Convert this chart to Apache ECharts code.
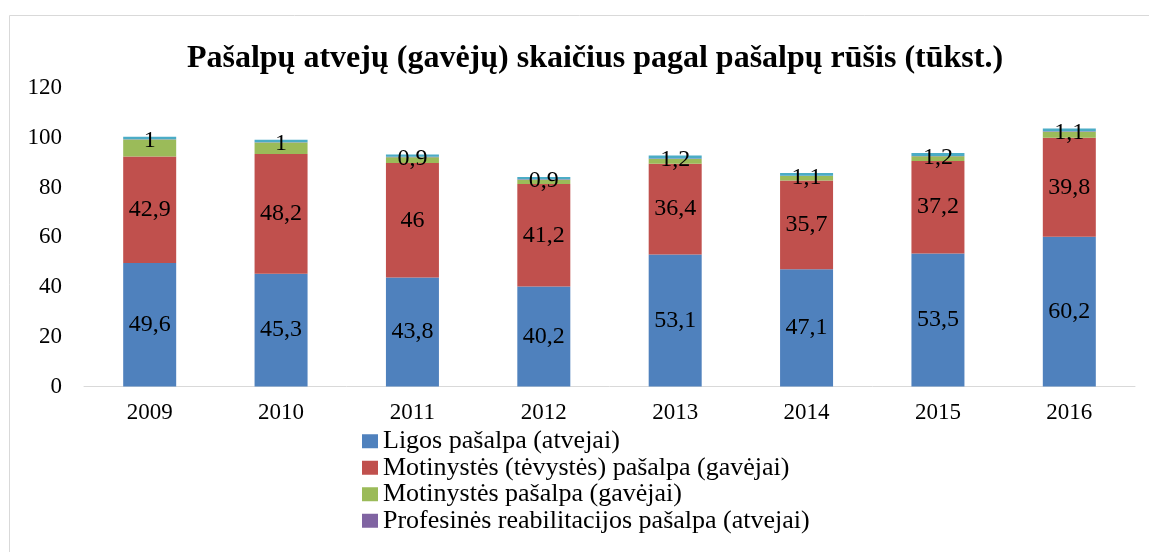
<!DOCTYPE html>
<html>
<head>
<meta charset="utf-8">
<script src="https://cdn.jsdelivr.net/npm/echarts@6/dist/echarts.min.js"></script>
<style>
  html, body { margin: 0; padding: 0; background: #fff; }
  #chart { width: 1149px; height: 552px; }
</style>
</head>
<body>
<div id="chart"></div>
<script>
const years = ["2009", "2010", "2011", "2012", "2013", "2014", "2015", "2016"];
const ligos = [49.6, 45.3, 43.8, 40.2, 53.1, 47.1, 53.5, 60.2];
const motinystesTevystes = [42.9, 48.2, 46, 41.2, 36.4, 35.7, 37.2, 39.8];
const motinystes = [6.8, 4.6, 2.4, 1.7, 2.0, 1.8, 1.9, 2.4];
const profesines = [0.1, 0.1, 0.2, 0.2, 0.2, 0.1, 0.1, 0.2];
const kita = [1, 1, 0.9, 0.9, 1.2, 1.1, 1.2, 1.1];
const yTicks = [0, 20, 40, 60, 80, 100, 120];

const serif = "Liberation Serif";
const fmt = (p) => String(p.value).replace(".", ",");

const label = {
  show: true,
  position: "inside",
  color: "#000",
  fontFamily: serif,
  fontSize: 24,
  formatter: fmt,
};

const chart = echarts.init(document.getElementById("chart"));
chart.setOption({
  animation: false,
  graphic: [
    {
      type: "rect",
      shape: { x: 9.5, y: 15.5, width: 1300, height: 700 },
      style: { fill: "none", stroke: "#d9d9d9", lineWidth: 1 },
      silent: true,
    },
  ],
  title: {
    text: "Pašalpų atvejų (gavėjų) skaičius pagal pašalpų rūšis (tūkst.)",
    left: 590,
    textAlign: "center",
    top: 38,
    textStyle: { fontFamily: serif, fontSize: 32, fontWeight: "bold", color: "#000" },
  },
  legend: {
    orient: "vertical",
    left: 357,
    top: 423,
    itemGap: 0,
    itemWidth: 16,
    itemHeight: 14,
    icon: "rect",
    data: [
      "Ligos pašalpa (atvejai)",
      "Motinystės (tėvystės) pašalpa (gavėjai)",
      "Motinystės pašalpa (gavėjai)",
      "Profesinės reabilitacijos pašalpa (atvejai)",
    ],
    textStyle: { fontFamily: serif, fontSize: 26, lineHeight: 26.5, color: "#000" },
  },
  grid: { left: 84, right: 14, top: 88, bottom: 165.5, containLabel: false },
  xAxis: {
    type: "category",
    data: years,
    axisLine: { lineStyle: { color: "#d9d9d9" } },
    axisTick: { show: false },
    axisLabel: { fontFamily: serif, fontSize: 23, color: "#000", margin: 15 },
  },
  yAxis: {
    type: "value",
    min: yTicks[0],
    max: yTicks[yTicks.length - 1],
    interval: 20,
    axisLine: { show: false },
    axisTick: { show: false },
    splitLine: { show: false },
    axisLabel: { fontFamily: serif, fontSize: 23, color: "#000", margin: 22 },
  },
  series: [
    {
      name: "Ligos pašalpa (atvejai)",
      type: "bar",
      stack: "a",
      barWidth: 53,
      itemStyle: { color: "#4f81bd" },
      label: label,
      data: ligos,
    },
    {
      name: "Motinystės (tėvystės) pašalpa (gavėjai)",
      type: "bar",
      stack: "a",
      itemStyle: { color: "#c0504d" },
      label: label,
      data: motinystesTevystes,
    },
    {
      name: "Motinystės pašalpa (gavėjai)",
      type: "bar",
      stack: "a",
      itemStyle: { color: "#9bbb59" },
      data: motinystes,
    },
    {
      name: "Profesinės reabilitacijos pašalpa (atvejai)",
      type: "bar",
      stack: "a",
      itemStyle: { color: "#8064a2" },
      data: profesines,
    },
    {
      name: "Kita",
      type: "bar",
      stack: "a",
      itemStyle: { color: "#4bacc6" },
      label: { ...label, offset: [0, 3] },
      data: kita,
    },
  ],
});
window.addEventListener("resize", () => {
  chart.resize();
});
</script>
</body>
</html>
